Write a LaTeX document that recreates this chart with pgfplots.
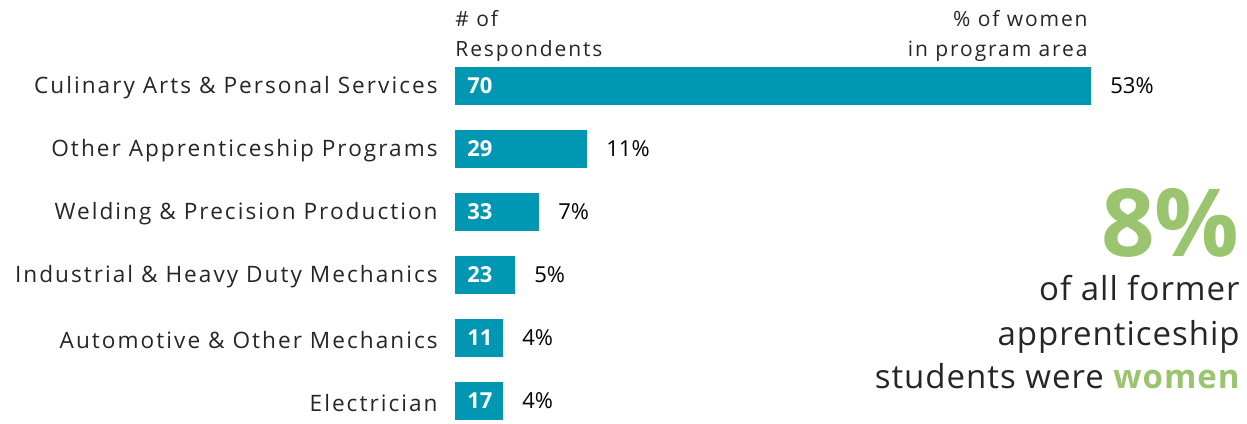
\documentclass[border=0pt]{standalone}
\usepackage{fontspec}
\setmainfont{Open Sans}
\newfontfamily\spaced[LetterSpace=9]{Open Sans}
\newfontfamily\spacedlight[LetterSpace=3]{Open Sans}
\usepackage{pgfplots}
\pgfplotsset{compat=1.18}
\usepackage{pgfplotstable}

\definecolor{barteal}{HTML}{0097B2}
\definecolor{lightgreen}{HTML}{9BC46E}
\definecolor{labelgray}{HTML}{262626}

% idx = row (top to bottom), pct = % of women, n = # of respondents
\pgfplotstableread{
idx pct n
0 53 70
1 11 29
2 7 33
3 5 23
4 4 11
5 4 17
}\datatable

\begin{document}
\begin{tikzpicture}
\begin{axis}[
  name=ax,
  scale only axis,
  width=396pt, height=211.5pt,
  xmin=0, xmax=66,
  ymin=-1.365, ymax=5.349,
  y dir=reverse,
  axis line style={draw=none},
  xtick=\empty,
  ytick={0,...,5},
  yticklabels={Culinary Arts \& Personal Services,
               Other Apprenticeship Programs,
               Welding \& Precision Production,
               Industrial \& Heavy Duty Mechanics,
               Automotive \& Other Mechanics,
               Electrician},
  major tick length=0pt,
  yticklabel style={font=\fontsize{11.3}{13}\spaced, text=labelgray,
                    inner sep=0pt, xshift=-8.5pt, yshift=-1pt},
  clip=false,
]
  % bars with % labels
  \addplot[xbar, bar shift=0pt, bar width=0.6, fill=barteal, draw=none,
    point meta=explicit symbolic,
    nodes near coords={\pgfplotspointmeta\%},
    every node near coord/.append style={anchor=west, inner sep=0pt,
      xshift=9.5pt, font=\fontsize{11}{13}\selectfont, text=black}]
    table[x=pct, y=idx, meta=pct] {\datatable};
  % respondent counts inside bars
  \addplot[draw=none, mark=none,
    point meta=explicit symbolic,
    nodes near coords={\pgfplotspointmeta},
    every node near coord/.append style={anchor=west, inner sep=0pt,
      xshift=6pt, font=\fontsize{11}{13}\selectfont\bfseries, text=white}]
    table[x expr=0, y=idx, meta=n] {\datatable};

  \node[anchor=south west, inner sep=0pt, align=left, yshift=2.5pt,
        font=\fontsize{10.5}{15}\spaced, text=labelgray]
    at (axis cs:0,-0.3) {\# of\\Respondents};
  \node[anchor=south east, inner sep=0pt, align=right, yshift=2.5pt,
        font=\fontsize{10.5}{15}\spaced, text=labelgray]
    at (axis cs:52.75,-0.3) {\% of women\\in program area};

  \node[anchor=north east, inner sep=0pt, text=lightgreen,
        font=\fontsize{47}{47}\selectfont\bfseries]
    at (axis cs:65.42,1.62) {8\%};
  \node[anchor=base east, inner sep=0pt, text=labelgray,
        font=\fontsize{16.5}{20}\spacedlight]
    at (axis cs:65.42,3.397) {of all former};
  \node[anchor=base east, inner sep=0pt, text=labelgray,
        font=\fontsize{16.5}{20}\spacedlight]
    at (axis cs:65.42,4.111) {apprenticeship};
  \node[anchor=base east, inner sep=0pt, text=labelgray,
        font=\fontsize{16.5}{20}\spacedlight]
    at (axis cs:65.42,4.794) {students were {\bfseries\color{lightgreen}women}};
\end{axis}
\pgfresetboundingbox
\path[use as bounding box] ([xshift=-227.5pt]ax.south west) rectangle (ax.north east);
\end{tikzpicture}
\end{document}
